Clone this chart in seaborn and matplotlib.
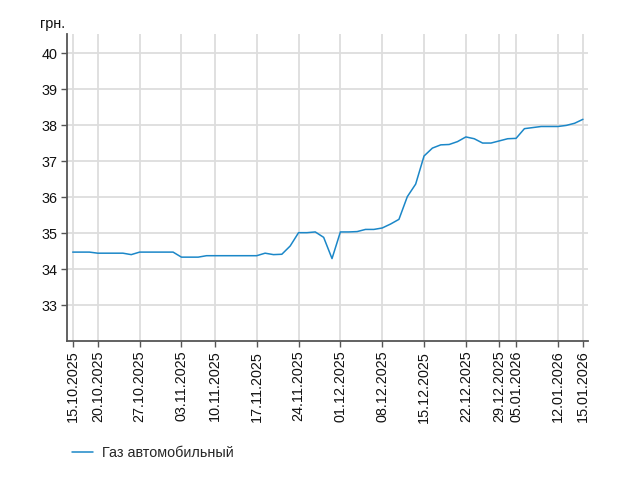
import matplotlib
matplotlib.use("Agg")
import matplotlib.pyplot as plt
import seaborn as sns
import pandas as pd

dates = ["15.10.2025", "16.10.2025", "17.10.2025", "20.10.2025", "21.10.2025", "22.10.2025",
         "23.10.2025", "24.10.2025", "27.10.2025", "28.10.2025", "29.10.2025", "30.10.2025",
         "31.10.2025", "03.11.2025", "05.11.2025", "06.11.2025", "07.11.2025", "10.11.2025",
         "11.11.2025", "12.11.2025", "13.11.2025", "14.11.2025", "17.11.2025", "18.11.2025",
         "19.11.2025", "20.11.2025", "21.11.2025", "24.11.2025", "25.11.2025", "26.11.2025",
         "27.11.2025", "28.11.2025", "01.12.2025", "02.12.2025", "03.12.2025", "04.12.2025",
         "05.12.2025", "08.12.2025", "09.12.2025", "10.12.2025", "11.12.2025", "12.12.2025",
         "15.12.2025", "16.12.2025", "17.12.2025", "18.12.2025", "19.12.2025", "22.12.2025",
         "23.12.2025", "24.12.2025", "25.12.2025", "29.12.2025", "30.12.2025", "05.01.2026",
         "06.01.2026", "07.01.2026", "08.01.2026", "09.01.2026", "12.01.2026", "13.01.2026",
         "14.01.2026", "15.01.2026"]

prices = [34.47, 34.47, 34.47, 34.44, 34.44, 34.44, 34.44, 34.40, 34.47, 34.47,
          34.47, 34.47, 34.47, 34.33, 34.33, 34.33, 34.37, 34.37, 34.37, 34.37,
          34.37, 34.37, 34.37, 34.44, 34.40, 34.41, 34.64, 35.01, 35.01, 35.03,
          34.88, 34.29, 35.03, 35.03, 35.04, 35.10, 35.10, 35.14, 35.25, 35.38,
          36.01, 36.36, 37.14, 37.36, 37.45, 37.46, 37.54, 37.67, 37.62, 37.50,
          37.50, 37.56, 37.62, 37.63, 37.90, 37.93, 37.96, 37.96, 37.96, 37.99,
          38.05, 38.16]

tick_labels = ["15.10.2025", "20.10.2025", "27.10.2025", "03.11.2025", "10.11.2025",
               "17.11.2025", "24.11.2025", "01.12.2025", "08.12.2025", "15.12.2025",
               "22.12.2025", "29.12.2025", "05.01.2026", "12.01.2026", "15.01.2026"]

y_ticks = [33, 34, 35, 36, 37, 38, 39, 40]
series_name = "Газ автомобильный"
unit_label = "грн."

sns.set_theme(style="whitegrid")
plt.rcParams["font.family"] = ["Liberation Sans", "DejaVu Sans"]

df = pd.DataFrame({"idx": range(len(dates)), "date": dates, "price": prices})

fig = plt.figure(figsize=(6.43, 4.86), dpi=100)
ax = fig.add_axes([67 / 643, 1 - 341 / 486, (588 - 67) / 643, (341 - 34) / 486])

line_color = "#1b87c8"
sns.lineplot(data=df, x="idx", y="price", ax=ax, color=line_color, linewidth=1.1,
             label=series_name, legend=False)

ax.set_xlim(-0.68, 61.6)
ax.set_ylim(32, 40.53)
ax.set_yticks(y_ticks)
ax.set_yticklabels([str(v) for v in y_ticks])
tick_pos = [dates.index(t) for t in tick_labels]
ax.set_xticks(tick_pos)
ax.set_xticklabels(tick_labels, rotation=90)

ax.set_xlabel("")
ax.set_ylabel("")
ax.set_facecolor("white")
ax.grid(True, color="#dddddd", linewidth=1.3)
for s in ["top", "right"]:
    ax.spines[s].set_visible(False)
for s in ["left", "bottom"]:
    ax.spines[s].set_visible(True)
    ax.spines[s].set_color("#555555")
    ax.spines[s].set_linewidth(1.3)
ax.tick_params(axis="both", which="both", length=4, width=1, color="#555555",
               labelsize=10.4, labelcolor="#111111", pad=3, left=True, bottom=True)

fig.text(40 / 643, 1 - 28 / 486, unit_label, fontsize=10.4, color="#111111", va="baseline")

handles, labels = ax.get_legend_handles_labels()
fig.legend(handles, labels, loc="center left", bbox_to_anchor=(72 / 643, 1 - 453 / 486),
           frameon=False, fontsize=10.4, handlelength=1.45, handletextpad=0.6,
           borderpad=0, borderaxespad=0)

fig.savefig("out.png", dpi=100, facecolor="white")
